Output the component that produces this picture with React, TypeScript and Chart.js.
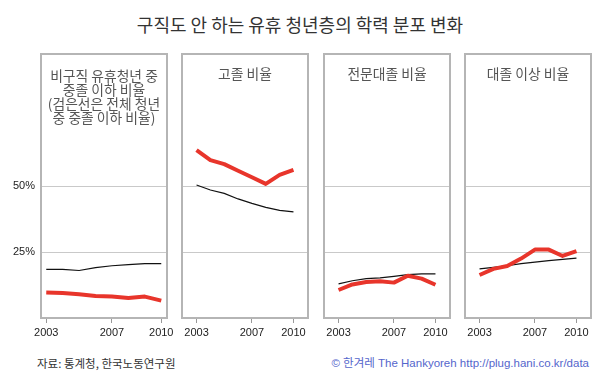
import React, { useEffect, useRef } from "react";
import { Chart, registerables } from "chart.js";
Chart.register(...registerables);

// ---- data ----
const years = [2003, 2004, 2005, 2006, 2007, 2008, 2009, 2010];
const tickYears = [2003, 2007, 2010];
const yTickValues = [25, 50];

const p1Red = [9.7, 9.5, 9.0, 8.3, 8.1, 7.6, 8.1, 6.6];
const p1Black = [18.4, 18.4, 18.0, 19.1, 19.8, 20.2, 20.6, 20.6];
const p2Red = [63.6, 59.8, 58.3, 55.8, 53.3, 50.8, 54.2, 56.1];
const p2Black = [50.4, 48.5, 47.2, 45.1, 43.4, 41.9, 40.8, 40.2];
const p3Red = [10.6, 12.7, 13.6, 13.9, 13.4, 16.0, 14.9, 12.6];
const p3Black = [12.9, 14.1, 14.9, 15.2, 15.8, 16.4, 16.7, 16.7];
const p4Red = [16.3, 18.6, 19.7, 22.5, 25.9, 25.9, 23.5, 25.3];
const p4Black = [18.6, 19.2, 19.8, 20.6, 21.2, 21.7, 22.2, 22.7];

const mainTitle = "구직도 안 하는 유휴 청년층의 학력 분포 변화";
const panelTitles = [
  ["비구직 유휴청년 중", "중졸 이하 비율", "(검은선은 전체 청년", "중 중졸 이하 비율)"],
  ["고졸 비율"],
  ["전문대졸 비율"],
  ["대졸 이상 비율"],
];
const sourceText = "자료: 통계청, 한국노동연구원";
const creditText = "© 한겨레 The Hankyoreh http://plug.hani.co.kr/data";

const redSeries = [p1Red, p2Red, p3Red, p4Red];
const blackSeries = [p1Black, p2Black, p3Black, p4Black];

// ---- layout ----
const BOX_TOP = 54;
const BOX_BOTTOM = 318;
const PAD_T = 2;
const PAD_B = 26;
const PAD_R = 8;
const panels = [
  { l: 41, r: 167, xmin: 2002.68, xmax: 2010.35, padL: 41, showY: true },
  { l: 182, r: 308, xmin: 2001.95, xmax: 2011.05, padL: 8, showY: false },
  { l: 324, r: 450, xmin: 2001.95, xmax: 2011.05, padL: 8, showY: false },
  { l: 465, r: 591, xmin: 2001.95, xmax: 2011.05, padL: 8, showY: false },
];

const RED = "#e8352b";
const BLACK = "#111111";
const GRID = "#c9c9c9";
const FRAME = "#b5b5b5";
const NUM_FONT = '"Liberation Sans", Arial, sans-serif';
const KR_FONT = '"Noto Sans CJK KR", "Noto Sans", sans-serif';

const framePlugin = {
  id: "frame",
  afterDatasetsDraw(chart: any) {
    const { ctx, chartArea } = chart;
    ctx.save();
    ctx.strokeStyle = FRAME;
    ctx.lineWidth = 2;
    ctx.strokeRect(chartArea.left, chartArea.top, chartArea.right - chartArea.left, chartArea.bottom - chartArea.top);
    ctx.restore();
  },
};

function Panel({ idx }: { idx: number }) {
  const ref = useRef<HTMLCanvasElement | null>(null);
  const p = panels[idx];
  const w = p.r - p.l + p.padL + PAD_R;
  const h = BOX_BOTTOM - BOX_TOP + PAD_T + PAD_B;
  useEffect(() => {
    if (!ref.current) return;
    const red = years.map((x, i) => ({ x, y: redSeries[idx][i] }));
    const black = years.map((x, i) => ({ x, y: blackSeries[idx][i] }));
    const chart = new Chart(ref.current, {
      type: "line",
      data: {
        datasets: [
          { data: red, borderColor: RED, borderWidth: 4, pointRadius: 0, tension: 0, borderJoinStyle: "round" },
          { data: black, borderColor: BLACK, borderWidth: 1.2, pointRadius: 0, tension: 0 },
        ],
      },
      options: {
        animation: false,
        responsive: false,
        events: [],
        layout: { padding: { left: p.showY ? 0 : p.padL, right: PAD_R, top: PAD_T, bottom: 0 } },
        plugins: { legend: { display: false }, tooltip: { enabled: false }, title: { display: false } },
        scales: {
          x: {
            type: "linear",
            min: p.xmin,
            max: p.xmax,
            border: { display: false },
            grid: { drawOnChartArea: false, drawTicks: true, tickLength: 5, color: "#999", lineWidth: 1 },
            ticks: {
              font: { family: NUM_FONT, size: 11 },
              color: "#222",
              padding: 3,
              maxRotation: 0,
              autoSkip: false,
              callback: (v: any) => String(v),
            },
            afterBuildTicks: (s: any) => {
              s.ticks = tickYears.map((v) => ({ value: v }));
            },
            afterFit: (s: any) => {
              s.height = PAD_B;
              s.paddingLeft = 0;
              s.paddingRight = 0;
            },
          },
          y: {
            min: 0,
            max: 100,
            border: { display: false },
            grid: { drawTicks: false, color: GRID, lineWidth: 1 },
            ticks: {
              display: p.showY,
              font: { family: NUM_FONT, size: 11 },
              color: "#222",
              padding: 6,
              callback: (v: any) => v + "%",
            },
            afterBuildTicks: (s: any) => {
              s.ticks = yTickValues.map((v) => ({ value: v }));
            },
            afterFit: (s: any) => {
              s.width = p.showY ? p.padL : 0;
              s.paddingTop = 0;
              s.paddingBottom = 0;
            },
          },
        },
      },
      plugins: [framePlugin],
    } as any);
    return () => chart.destroy();
  }, [idx]);
  return (
    <canvas
      ref={ref}
      width={w}
      height={h}
      style={{ position: "absolute", left: p.l - p.padL, top: BOX_TOP - PAD_T, width: w, height: h }}
    />
  );
}

export default function App() {
  return (
    <div style={{ position: "fixed", left: 0, top: 0, width: 600, height: 375, background: "#fff", overflow: "hidden" }}>
      <div
        style={{
          position: "absolute",
          left: 0,
          top: 13,
          width: 600,
          textAlign: "center",
          fontFamily: KR_FONT,
          fontSize: 18,
          lineHeight: "22px",
          color: "#333",
          whiteSpace: "nowrap",
        }}
      >
        {mainTitle}
      </div>
      {panels.map((_, i) => (
        <Panel key={i} idx={i} />
      ))}
      {panels.map((p, i) => (
        <div
          key={"t" + i}
          style={{
            position: "absolute",
            left: p.l,
            width: p.r - p.l,
            top: i === 0 ? 68 : 66,
            textAlign: "center",
            fontFamily: KR_FONT,
            fontSize: 13.8,
            lineHeight: "14px",
            color: "#555",
            whiteSpace: "nowrap",
          }}
        >
          {panelTitles[i].map((line, j) => (
            <div key={j}>{line}</div>
          ))}
        </div>
      ))}
      <div
        style={{
          position: "absolute",
          left: 37,
          top: 356,
          fontFamily: KR_FONT,
          fontSize: 11.5,
          lineHeight: "14px",
          color: "#333",
          whiteSpace: "nowrap",
        }}
      >
        {sourceText}
      </div>
      <div
        style={{
          position: "absolute",
          right: 11,
          top: 356,
          fontFamily: '"Liberation Sans", "Noto Sans CJK KR", sans-serif',
          fontSize: 11.5,
          lineHeight: "14px",
          color: "#5566cc",
          whiteSpace: "nowrap",
        }}
      >
        {creditText}
      </div>
    </div>
  );
}
